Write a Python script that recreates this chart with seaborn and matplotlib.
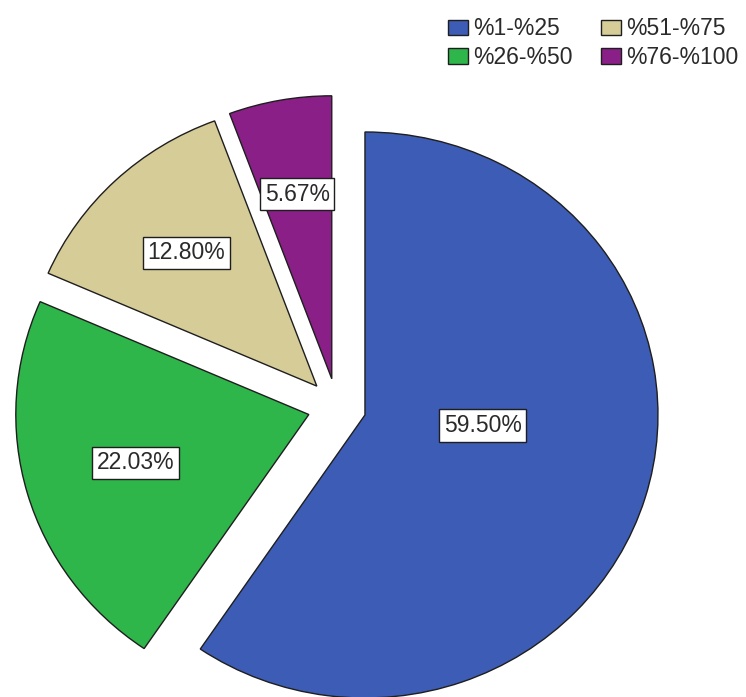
import numpy as np
import matplotlib
matplotlib.use("Agg")
import matplotlib.pyplot as plt
import seaborn as sns

# ---- data ----
categories = ["%1-%25", "%26-%50", "%51-%75", "%76-%100"]
values = [59.50, 22.03, 12.80, 5.67]
pct_labels = ["59.50%", "22.03%", "12.80%", "5.67%"]
colors = ["#3D5CB6", "#2EB64A", "#D6CC98", "#8B1F88"]

sns.set_theme(style="white")
plt.rcParams["font.family"] = ["Liberation Sans", "DejaVu Sans"]

fig = plt.figure(figsize=(7.46, 6.97), dpi=100)
ax = fig.add_axes([0, 0, 1, 1])

wedges, _ = ax.pie(
    values,
    colors=colors,
    startangle=90,
    counterclock=False,
    explode=[0.1] * len(values),
    radius=1.0,
    wedgeprops=dict(edgecolor="#1e1e1e", linewidth=1.0),
)

ax.set_aspect("auto")
ax.set_xlim(-1.150, 1.396)
ax.set_ylim(-1.026, 1.437)
ax.axis("off")

for w, lab in zip(wedges, pct_labels):
    t1, t2 = np.deg2rad(w.theta1), np.deg2rad(w.theta2)
    half = abs(t2 - t1) / 2
    mid = (t1 + t2) / 2
    dist = 2 * np.sin(half) / (3 * half)
    dist = max(dist, 0.42)
    cx, cy = w.center
    x = cx + dist * w.r * np.cos(mid)
    y = cy + dist * w.r * np.sin(mid) * (0.3 if dist == 0.42 else 1.0)
    ax.text(x, y, lab, ha="center", va="center", fontsize=16.5, color="#2a2a2a",
            bbox=dict(boxstyle="square,pad=0.2", facecolor="white",
                      edgecolor="#1e1e1e", linewidth=1.0))

leg = fig.legend(
    wedges, categories,
    ncol=2, loc="upper left", bbox_to_anchor=(0.600, 0.975),
    frameon=False, fontsize=16.5,
    handlelength=0.88, handleheight=0.68, handletextpad=0.22,
    columnspacing=1.25, labelspacing=0.26, borderpad=0, borderaxespad=0,
)
for t in leg.get_texts():
    t.set_color("#2a2a2a")

fig.savefig("out.png", dpi=100)
